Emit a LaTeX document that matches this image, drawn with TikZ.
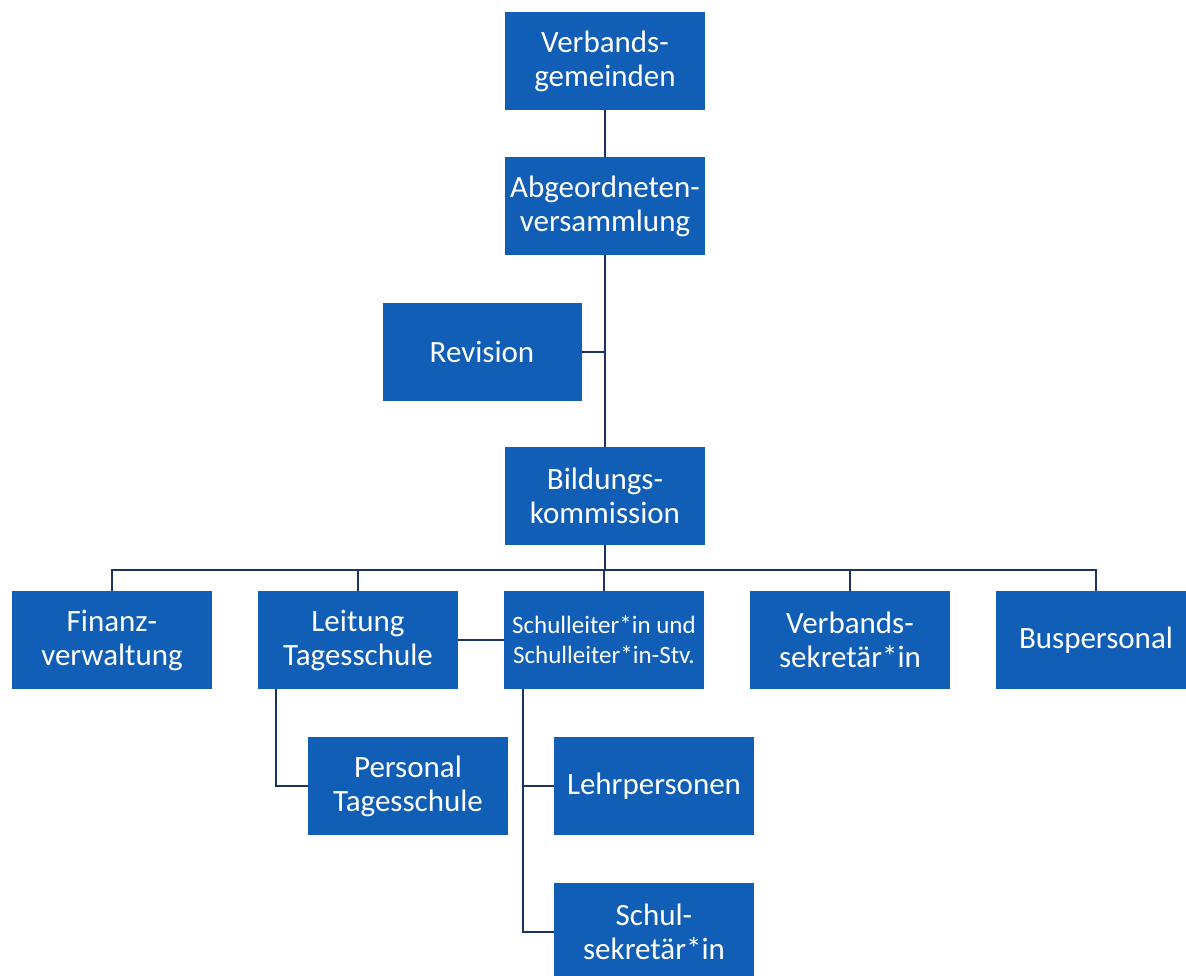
\documentclass[tikz,border=0pt]{standalone}
\usepackage{fontspec}
\setmainfont{Carlito}
\usetikzlibrary{positioning,calc}
\definecolor{orgblue}{RGB}{16,94,182}
\definecolor{orgline}{RGB}{28,52,100}
\tikzset{
  orgbox/.style  = { fill=orgblue, text=white, inner sep=0pt, align=center,
    minimum width=200pt, minimum height=98pt, font=\fontsize{31}{34}\selectfont },
  smallbox/.style = { orgbox, font=\fontsize{25}{30}\selectfont },
  conn/.style    = { draw=orgline, line width=2.2pt }
}

\begin{document}
\begin{tikzpicture}[x=1pt,y=-1pt]
    \useasboundingbox (0,0) rectangle (1186,975);
    \clip (0,0) rectangle (1186,975);
    \node[orgbox] (vg) at (605,61) {Verbands-\\gemeinden};
    \node[orgbox] (av) at (605,206) {Abgeordneten-\\versammlung};
    \node[orgbox, minimum width=199pt] (rev) at (482,352) {Revision};
    \node[orgbox] (bk) at (605,496) {Bildungs-\\kommission};
    \coordinate (bus) at (605,570);
    % zweite Ebene
    \node[orgbox] (fin) at (112,640) {Finanz-\\verwaltung};
    \node[orgbox] (lt) at (358,640) {Leitung\\Tagesschule};
    \node[smallbox] (sl) at (604,640) {Schulleiter*in und\\Schulleiter*in-Stv.};
    \node[orgbox] (vs) at (850,640) {Verbands-\\sekretär*in};
    \node[orgbox] (bp) at (1096,640) {Buspersonal};
    % dritte Ebene
    \node[orgbox] (pt) at (408,786) {Personal\\Tagesschule};
    \node[orgbox] (lp) at (654,786) {Lehrpersonen};
    \node[orgbox] (ss) at (654,932) {Schul-\\sekretär*in};

    \path[conn] (vg) -- (av);
    \path[conn] (av) -- (bk);
    \path[conn] (rev.east) -- (rev.east -| av.south);
    \path[conn] (bk) -- (bus);
    \path[conn] (fin.north) -- (fin.north |- bus) -- (bp.north |- bus) -- (bp.north);
    \path[conn] (lt.north) -- (lt.north |- bus);
    \path[conn] (sl.north) -- (sl.north |- bus);
    \path[conn] (vs.north) -- (vs.north |- bus);
    \path[conn] (lt.east) -- (sl.west);
    \path[conn] ([xshift=18pt]lt.south west) |- (pt.west);
    \path[conn] ([xshift=19pt]sl.south west) |- (lp.west);
    \path[conn] ([xshift=19pt]sl.south west) |- (ss.west);
\end{tikzpicture}
\end{document}
